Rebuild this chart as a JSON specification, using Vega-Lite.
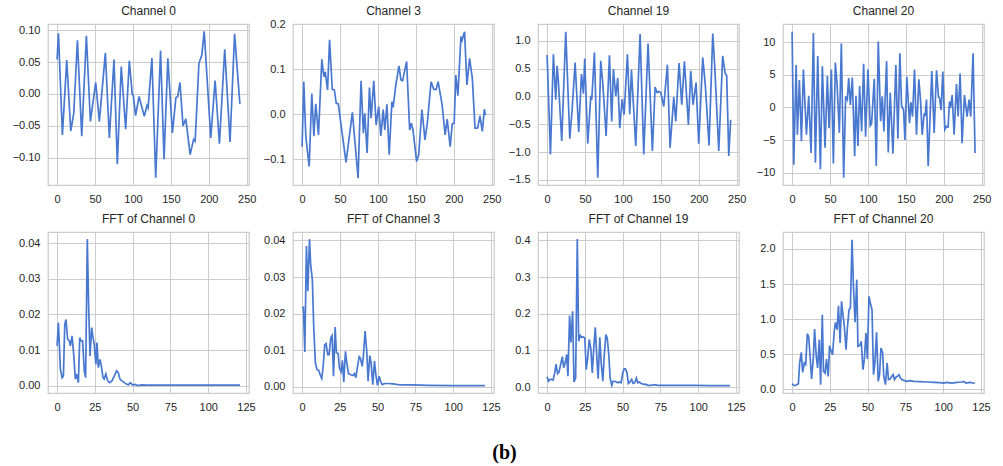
{
  "$schema": "https://vega.github.io/schema/vega-lite/v6.json",
  "background": "white",
  "padding": {"left": 11, "top": 4, "right": 5, "bottom": 5},
  "title": {"text": "(b)", "orient": "bottom", "anchor": "middle", "font": "Liberation Serif", "fontSize": 20, "fontWeight": "bold", "color": "#000000", "offset": 30, "dx": 3},
  "datasets": {
    "ch0": [
      {"x":0,"y":0.054},{"x":1.8,"y":0.095},{"x":7,"y":-0.064},{"x":12.7,"y":0.053},{"x":18,"y":-0.058},{"x":22,"y":-0.03},{"x":26.8,"y":0.084},{"x":32.5,"y":-0.066},{"x":38.6,"y":0.091},{"x":43.9,"y":-0.043},{"x":50.9,"y":0.018},{"x":55.7,"y":-0.043},{"x":63.6,"y":0.064},{"x":68.9,"y":-0.069},{"x":75,"y":0.054},{"x":79.4,"y":-0.11},{"x":84.6,"y":0.043},{"x":90.4,"y":-0.055},{"x":95.2,"y":0.052},{"x":99,"y":0},{"x":100.5,"y":-0.003},{"x":103.5,"y":-0.034},{"x":108,"y":-0.004},{"x":115,"y":-0.035},{"x":118.4,"y":-0.018},{"x":120,"y":-0.022},{"x":125,"y":0.056},{"x":130,"y":-0.131},{"x":136.4,"y":0.068},{"x":141,"y":-0.102},{"x":146,"y":0.056},{"x":152,"y":-0.061},{"x":156.6,"y":-0.006},{"x":159,"y":-0.004},{"x":162,"y":0.018},{"x":166,"y":-0.05},{"x":169.7,"y":-0.039},{"x":175.4,"y":-0.095},{"x":180,"y":-0.071},{"x":182,"y":-0.074},{"x":187,"y":0.048},{"x":190.8,"y":0.061},{"x":193.9,"y":0.098},{"x":202.6,"y":-0.069},{"x":208.3,"y":0.021},{"x":214,"y":-0.078},{"x":221,"y":0.07},{"x":228,"y":-0.075},{"x":234,"y":0.094},{"x":241,"y":-0.016}
    ],
    "ch3": [
      {"x":0,"y":-0.072},{"x":2.2,"y":0.072},{"x":4.9,"y":-0.049},{"x":9.3,"y":-0.116},{"x":12.8,"y":0.046},{"x":15.5,"y":-0.049},{"x":18,"y":0.023},{"x":21.6,"y":-0.046},{"x":26,"y":0.122},{"x":28.7,"y":0.083},{"x":30.5,"y":0.094},{"x":33.6,"y":0.054},{"x":36.2,"y":0.165},{"x":39.8,"y":0.055},{"x":42.5,"y":0.054},{"x":45,"y":0.024},{"x":47.7,"y":0.023},{"x":57.9,"y":-0.107},{"x":66.3,"y":0.004},{"x":73.8,"y":-0.142},{"x":77.7,"y":0.074},{"x":80.8,"y":-0.042},{"x":82.6,"y":0.002},{"x":85.7,"y":-0.086},{"x":88.8,"y":0.059},{"x":91,"y":-0.009},{"x":94.5,"y":0.074},{"x":97.6,"y":-0.024},{"x":101,"y":0.017},{"x":103.8,"y":-0.048},{"x":106.9,"y":0.01},{"x":109,"y":-0.035},{"x":111.8,"y":0.022},{"x":114.8,"y":-0.09},{"x":118.4,"y":0.028},{"x":120,"y":0.015},{"x":123.7,"y":0.066},{"x":127.7,"y":0.107},{"x":130.3,"y":0.076},{"x":132.5,"y":0.074},{"x":137.8,"y":0.117},{"x":141.8,"y":-0.035},{"x":144,"y":-0.02},{"x":146.2,"y":-0.035},{"x":151,"y":-0.105},{"x":153.7,"y":-0.09},{"x":158,"y":0.01},{"x":162,"y":-0.057},{"x":165,"y":-0.021},{"x":170,"y":0.072},{"x":173.6,"y":0.055},{"x":176.7,"y":0.055},{"x":179.3,"y":0.072},{"x":184.6,"y":0.021},{"x":188.6,"y":-0.046},{"x":191.3,"y":-0.011},{"x":195.2,"y":-0.072},{"x":198,"y":-0.021},{"x":200.5,"y":-0.02},{"x":202.7,"y":0.087},{"x":205.4,"y":0.041},{"x":209.4,"y":0.172},{"x":211,"y":0.164},{"x":212.9,"y":0.176},{"x":214.2,"y":0.183},{"x":217.3,"y":0.065},{"x":220.8,"y":0.124},{"x":224.4,"y":0.08},{"x":228,"y":-0.031},{"x":231.4,"y":-0.031},{"x":234.5,"y":-0.004},{"x":237.6,"y":-0.038},{"x":240.3,"y":0.011},{"x":241.6,"y":-0.002}
    ],
    "ch19": [
      {"x":0,"y":0.744},{"x":4.4,"y":-1.04},{"x":8.3,"y":0.756},{"x":11.4,"y":-0.06},{"x":13.2,"y":0.55},{"x":15,"y":0.24},{"x":19.3,"y":-0.8},{"x":24.6,"y":1.16},{"x":29.9,"y":-0.76},{"x":33,"y":-0.24},{"x":36.9,"y":0.61},{"x":41.7,"y":-0.64},{"x":45.3,"y":0.4},{"x":47.9,"y":0.05},{"x":49.6,"y":0.68},{"x":53.6,"y":-0.85},{"x":57.6,"y":0.01},{"x":58.9,"y":-0.06},{"x":62.4,"y":0.79},{"x":66.8,"y":-1.46},{"x":70.7,"y":0.64},{"x":73.4,"y":0.24},{"x":77.8,"y":-0.71},{"x":82.2,"y":0.74},{"x":85.2,"y":-0.45},{"x":87.4,"y":0.49},{"x":90.5,"y":0.01},{"x":93.1,"y":0.33},{"x":95.8,"y":-0.57},{"x":98.9,"y":-0.05},{"x":101.5,"y":-0.33},{"x":105.9,"y":0.756},{"x":109,"y":-0.32},{"x":111.2,"y":0.48},{"x":116.9,"y":-0.89},{"x":122.6,"y":1.12},{"x":127.4,"y":-1.04},{"x":133.1,"y":0.95},{"x":138.8,"y":-0.98},{"x":142.4,"y":0.17},{"x":145,"y":0.07},{"x":147.6,"y":0.09},{"x":149.8,"y":0.07},{"x":153.8,"y":-0.18},{"x":158.6,"y":0.57},{"x":162.1,"y":-0.92},{"x":167,"y":-0.01},{"x":169.6,"y":-0.45},{"x":174,"y":0.6},{"x":177.5,"y":-0.15},{"x":181,"y":0.63},{"x":186.3,"y":-0.51},{"x":189.4,"y":0.46},{"x":192.4,"y":-0.15},{"x":196.4,"y":0.25},{"x":199.9,"y":-0.85},{"x":205.2,"y":0.7},{"x":208.7,"y":0.18},{"x":213.5,"y":-0.88},{"x":218.4,"y":1.13},{"x":221,"y":0.54},{"x":226.3,"y":-0.98},{"x":231.5,"y":0.73},{"x":234.6,"y":0.42},{"x":236.8,"y":0.37},{"x":239.5,"y":-1.07},{"x":242,"y":-0.42}
    ],
    "ch20": [
      {"x":0,"y":11.6},{"x":2.2,"y":-8.8},{"x":5.3,"y":6.5},{"x":7,"y":-4.2},{"x":9.6,"y":4.2},{"x":12.3,"y":-5.2},{"x":14.9,"y":5.8},{"x":18.9,"y":-4.2},{"x":21.9,"y":1.8},{"x":25,"y":-7},{"x":28.1,"y":11.4},{"x":30.7,"y":-8.5},{"x":33.8,"y":7.9},{"x":37.3,"y":-9.5},{"x":39.9,"y":6.3},{"x":43.4,"y":-6.2},{"x":46.5,"y":4.8},{"x":48.7,"y":-3.2},{"x":51.8,"y":5.8},{"x":54.4,"y":-8.6},{"x":57,"y":6.9},{"x":59.2,"y":3.7},{"x":62.3,"y":-3.9},{"x":64.9,"y":9.8},{"x":68,"y":-10.8},{"x":70.6,"y":1.7},{"x":72.8,"y":1.2},{"x":74.6,"y":4.5},{"x":76.8,"y":0.4},{"x":79.4,"y":4.6},{"x":82.5,"y":-7.5},{"x":84.2,"y":1.8},{"x":86.8,"y":-5.9},{"x":89,"y":3.3},{"x":91.7,"y":-3.7},{"x":94.3,"y":6.7},{"x":96.9,"y":-4.5},{"x":100,"y":5.8},{"x":103,"y":-2.8},{"x":104.8,"y":-2.5},{"x":108.3,"y":4.4},{"x":111,"y":-9},{"x":113.6,"y":10.1},{"x":116.7,"y":-2.1},{"x":118.9,"y":1.7},{"x":121,"y":-3.7},{"x":124.6,"y":7.1},{"x":126.8,"y":-6.9},{"x":129.4,"y":2.3},{"x":132.9,"y":-7.1},{"x":136.8,"y":6.5},{"x":139.5,"y":-4.8},{"x":142.1,"y":8.3},{"x":144.3,"y":0.3},{"x":147,"y":-0.4},{"x":148.7,"y":-5},{"x":151.3,"y":4.7},{"x":154.8,"y":-2.4},{"x":156.6,"y":0.8},{"x":158.8,"y":-1.4},{"x":161.4,"y":5.8},{"x":164,"y":-4.2},{"x":167.1,"y":4.3},{"x":169.3,"y":1.2},{"x":171.5,"y":-4.2},{"x":174.1,"y":-0.9},{"x":175.4,"y":-1.3},{"x":177.2,"y":1.2},{"x":179.4,"y":-9},{"x":184.2,"y":5.6},{"x":187.3,"y":-3.9},{"x":190.4,"y":5.7},{"x":193,"y":1.6},{"x":194.3,"y":1.5},{"x":196.5,"y":-0.4},{"x":198.7,"y":5.5},{"x":201.3,"y":-3.4},{"x":203.5,"y":-2.9},{"x":205.7,"y":-3},{"x":207.5,"y":0.9},{"x":208.8,"y":-0.1},{"x":211,"y":1.9},{"x":213.6,"y":-4.2},{"x":216.7,"y":3.6},{"x":218.9,"y":-1.4},{"x":221.5,"y":5.2},{"x":224.1,"y":-5.5},{"x":227.2,"y":1.9},{"x":230.7,"y":-1.4},{"x":233.3,"y":1.2},{"x":235.5,"y":-1.4},{"x":238.6,"y":8.3},{"x":241.2,"y":-7}
    ],
    "f0": [
      {"x":0,"y":0.0112},{"x":0.9,"y":0.0177},{"x":2.2,"y":0.0047},{"x":3.3,"y":0.0023},{"x":4.2,"y":0.0028},{"x":5.1,"y":0.0172},{"x":5.9,"y":0.0186},{"x":7,"y":0.013},{"x":8.1,"y":0.0126},{"x":8.8,"y":0.0112},{"x":9.9,"y":0.014},{"x":11,"y":0.0088},{"x":12.1,"y":0.0019},{"x":13,"y":0.0033},{"x":14.1,"y":0.0009},{"x":15,"y":0.0135},{"x":15.8,"y":0.0126},{"x":16.9,"y":0.0126},{"x":18,"y":0.0042},{"x":18.9,"y":0.0023},{"x":20,"y":0.0411},{"x":20.9,"y":0.0223},{"x":21.8,"y":0.0084},{"x":22.9,"y":0.0163},{"x":23.8,"y":0.0135},{"x":24.6,"y":0.0116},{"x":25.7,"y":0.006},{"x":26.4,"y":0.0121},{"x":27.3,"y":0.0051},{"x":28.4,"y":0.0074},{"x":29.3,"y":0.0056},{"x":30.4,"y":0.0023},{"x":31.2,"y":0.0019},{"x":32.3,"y":0.0033},{"x":33.5,"y":0.0014},{"x":34.8,"y":0.0009},{"x":36.3,"y":0.0014},{"x":37.9,"y":0.0028},{"x":39.4,"y":0.0042},{"x":40.5,"y":0.0037},{"x":41.6,"y":0.0019},{"x":42.9,"y":0.0014},{"x":44.5,"y":0.0009},{"x":45.8,"y":0.0005},{"x":47.3,"y":0.0003},{"x":48.4,"y":0.0009},{"x":49.5,"y":0.0005},{"x":50.2,"y":0.0002},{"x":51.7,"y":0.0004},{"x":53.3,"y":0.0001},{"x":56,"y":0.0003},{"x":59.4,"y":0.0002},{"x":70,"y":0.0002},{"x":90,"y":0.0002},{"x":110,"y":0.0002},{"x":121,"y":0.0002}
    ],
    "f3": [
      {"x":0,"y":0.0215},{"x":0.9,"y":0.0217},{"x":1.8,"y":0.0095},{"x":2.9,"y":0.0385},{"x":3.8,"y":0.0261},{"x":4.9,"y":0.0404},{"x":5.7,"y":0.0334},{"x":6.8,"y":0.0293},{"x":7.7,"y":0.0165},{"x":8.8,"y":0.0065},{"x":9.9,"y":0.0047},{"x":11,"y":0.0045},{"x":11.9,"y":0.0034},{"x":13,"y":0.0023},{"x":13.9,"y":0.0052},{"x":15,"y":0.0115},{"x":15.9,"y":0.0118},{"x":17,"y":0.0088},{"x":17.9,"y":0.0088},{"x":19,"y":0.0134},{"x":19.9,"y":0.014},{"x":20.8,"y":0.0029},{"x":21.9,"y":0.0163},{"x":22.7,"y":0.0093},{"x":23.9,"y":0.0091},{"x":24.7,"y":0.0052},{"x":25.8,"y":0.0041},{"x":26.7,"y":0.0072},{"x":27.6,"y":0.0013},{"x":28.7,"y":0.0097},{"x":29.6,"y":0.0065},{"x":30.7,"y":0.0036},{"x":31.6,"y":0.0034},{"x":32.7,"y":0.0032},{"x":33.6,"y":0.0031},{"x":34.7,"y":0.0036},{"x":35.6,"y":0.0025},{"x":36.7,"y":0.0056},{"x":37.8,"y":0.0082},{"x":38.6,"y":0.0078},{"x":39.8,"y":0.0056},{"x":40.6,"y":0.0084},{"x":41.7,"y":0.0152},{"x":42.8,"y":0.0097},{"x":43.7,"y":0.0015},{"x":44.8,"y":0.0085},{"x":45.7,"y":0.0064},{"x":46.8,"y":0.0006},{"x":47.9,"y":0.007},{"x":48.8,"y":0.0034},{"x":49.9,"y":0.0004},{"x":51,"y":0.0029},{"x":51.9,"y":0.0015},{"x":53,"y":0.0006},{"x":54.8,"y":0.0009},{"x":57,"y":0.0009},{"x":60.3,"y":0.0008},{"x":63.6,"y":0.0006},{"x":66.9,"y":0.0005},{"x":72.4,"y":0.0005},{"x":83.5,"y":0.0004},{"x":99,"y":0.0003},{"x":121,"y":0.0003}
    ],
    "f19": [
      {"x":0,"y":0.028},{"x":0.9,"y":0.016},{"x":2,"y":0.021},{"x":2.9,"y":0.021},{"x":4,"y":0.019},{"x":5.1,"y":0.039},{"x":5.9,"y":0.063},{"x":7,"y":0.037},{"x":7.9,"y":0.041},{"x":9,"y":0.062},{"x":10.1,"y":0.083},{"x":11,"y":0.053},{"x":12.1,"y":0.068},{"x":13,"y":0.089},{"x":13.8,"y":0.03},{"x":14.9,"y":0.195},{"x":15.8,"y":0.122},{"x":16.9,"y":0.207},{"x":17.8,"y":0.014},{"x":18.9,"y":0.025},{"x":20,"y":0.404},{"x":20.9,"y":0.125},{"x":22,"y":0.141},{"x":22.8,"y":0.136},{"x":23.9,"y":0.137},{"x":25,"y":0.134},{"x":25.9,"y":0.048},{"x":27,"y":0.084},{"x":27.9,"y":0.13},{"x":29,"y":0.104},{"x":29.9,"y":0.039},{"x":31,"y":0.112},{"x":31.9,"y":0.163},{"x":33,"y":0.075},{"x":33.8,"y":0.023},{"x":34.9,"y":0.136},{"x":35.8,"y":0.066},{"x":36.9,"y":0.016},{"x":37.8,"y":0.084},{"x":38.9,"y":0.143},{"x":39.8,"y":0.134},{"x":40.9,"y":0.086},{"x":41.7,"y":0.025},{"x":42.8,"y":0.005},{"x":43.7,"y":0.016},{"x":44.8,"y":0.016},{"x":45.9,"y":0.014},{"x":46.8,"y":0.012},{"x":47.8,"y":0.014},{"x":49,"y":0.012},{"x":50.1,"y":0.039},{"x":51,"y":0.05},{"x":51.8,"y":0.05},{"x":52.9,"y":0.039},{"x":53.8,"y":0.01},{"x":54.9,"y":0.014},{"x":56,"y":0.021},{"x":56.9,"y":0.01},{"x":58,"y":0.012},{"x":59.1,"y":0.025},{"x":60,"y":0.012},{"x":61.1,"y":0.014},{"x":62.2,"y":0.01},{"x":63.3,"y":0.009},{"x":64.4,"y":0.007},{"x":65.5,"y":0.008},{"x":66.6,"y":0.005},{"x":68.8,"y":0.005},{"x":71,"y":0.007},{"x":73.2,"y":0.005},{"x":79.7,"y":0.005},{"x":97.3,"y":0.005},{"x":108.3,"y":0.004},{"x":121,"y":0.004}
    ],
    "f20": [
      {"x":0,"y":0.081},{"x":1.1,"y":0.057},{"x":2,"y":0.052},{"x":3.1,"y":0.067},{"x":4.2,"y":0.081},{"x":5,"y":0.375},{"x":6.1,"y":0.527},{"x":7,"y":0.242},{"x":8.1,"y":0.375},{"x":9,"y":0.352},{"x":10.1,"y":0.793},{"x":11,"y":0.746},{"x":12.1,"y":0.423},{"x":12.9,"y":0.147},{"x":14,"y":0.423},{"x":14.9,"y":0.86},{"x":16,"y":0.47},{"x":16.9,"y":0.304},{"x":18,"y":0.708},{"x":18.9,"y":0.067},{"x":20,"y":1.064},{"x":20.8,"y":0.257},{"x":21.9,"y":0.233},{"x":22.8,"y":0.432},{"x":23.9,"y":0.185},{"x":24.8,"y":0.622},{"x":25.9,"y":0.542},{"x":26.8,"y":0.494},{"x":27.9,"y":0.827},{"x":28.7,"y":0.955},{"x":29.8,"y":0.85},{"x":30.7,"y":1.19},{"x":31.8,"y":0.66},{"x":32.7,"y":1.254},{"x":33.8,"y":1.04},{"x":34.6,"y":0.898},{"x":35.7,"y":0.565},{"x":36.6,"y":0.874},{"x":37.7,"y":1.135},{"x":38.6,"y":1.159},{"x":39.7,"y":2.133},{"x":40.6,"y":1.468},{"x":41.7,"y":0.955},{"x":42.8,"y":1.563},{"x":43.6,"y":0.613},{"x":44.7,"y":0.622},{"x":45.8,"y":0.684},{"x":46.9,"y":0.28},{"x":47.8,"y":0.423},{"x":48.9,"y":0.803},{"x":49.8,"y":0.432},{"x":50.9,"y":1.325},{"x":51.8,"y":1.23},{"x":52.9,"y":1.135},{"x":53.9,"y":0.209},{"x":54.8,"y":0.375},{"x":55.9,"y":0.812},{"x":57,"y":0.114},{"x":57.9,"y":0.209},{"x":58.8,"y":0.589},{"x":59.9,"y":0.527},{"x":60.7,"y":0.185},{"x":61.8,"y":0.067},{"x":62.9,"y":0.375},{"x":63.8,"y":0.138},{"x":64.9,"y":0.147},{"x":66,"y":0.185},{"x":66.9,"y":0.209},{"x":67.8,"y":0.138},{"x":68.9,"y":0.176},{"x":69.7,"y":0.185},{"x":70.8,"y":0.209},{"x":71.7,"y":0.162},{"x":72.8,"y":0.138},{"x":73.9,"y":0.128},{"x":76.1,"y":0.114},{"x":78.3,"y":0.124},{"x":80.5,"y":0.114},{"x":84.9,"y":0.109},{"x":89.3,"y":0.105},{"x":93.6,"y":0.1},{"x":98,"y":0.095},{"x":100.2,"y":0.09},{"x":102.4,"y":0.1},{"x":105.7,"y":0.09},{"x":109,"y":0.1},{"x":112.3,"y":0.105},{"x":113.4,"y":0.114},{"x":115.1,"y":0.09},{"x":117.8,"y":0.1},{"x":120,"y":0.09},{"x":121,"y":0.086}
    ]
  },
  "columns": 4,
  "bounds": "flush",
  "spacing": {"row": 47, "column": 44},
  "concat": [
    {
      "title": "Channel 0", "width": 201, "height": 161, "data": {"name": "ch0"},
      "mark": {"type": "line", "color": "#4878d0", "strokeWidth": 1.7, "clip": true},
      "encoding": {
        "x": {"field": "x", "type": "quantitative", "scale": {"domain": [-12, 253], "nice": false, "zero": false}, "axis": {"values": [0, 50, 100, 150, 200, 250], "title": null}},
        "y": {"field": "y", "type": "quantitative", "scale": {"domain": [-0.1425, 0.1095], "nice": false, "zero": false}, "axis": {"values": [-0.1, -0.05, 0, 0.05, 0.1], "format": ".2f", "title": null}}
      }
    },
    {
      "title": {"text": "Channel 3", "offset": 0}, "width": 201, "height": 161, "data": {"name": "ch3"},
      "mark": {"type": "line", "color": "#4878d0", "strokeWidth": 1.7, "clip": true},
      "encoding": {
        "x": {"field": "x", "type": "quantitative", "scale": {"domain": [-12, 253], "nice": false, "zero": false}, "axis": {"values": [0, 50, 100, 150, 200, 250], "title": null}},
        "y": {"field": "y", "type": "quantitative", "scale": {"domain": [-0.157, 0.2], "nice": false, "zero": false}, "axis": {"values": [-0.1, 0, 0.1, 0.2], "format": ".1f", "title": null}}
      }
    },
    {
      "title": "Channel 19", "width": 201, "height": 161, "data": {"name": "ch19"},
      "mark": {"type": "line", "color": "#4878d0", "strokeWidth": 1.7, "clip": true},
      "encoding": {
        "x": {"field": "x", "type": "quantitative", "scale": {"domain": [-12, 253], "nice": false, "zero": false}, "axis": {"values": [0, 50, 100, 150, 200, 250], "title": null}},
        "y": {"field": "y", "type": "quantitative", "scale": {"domain": [-1.59, 1.3], "nice": false, "zero": false}, "axis": {"values": [-1.5, -1, -0.5, 0, 0.5, 1], "format": ".1f", "title": null}}
      }
    },
    {
      "title": "Channel 20", "width": 201, "height": 161, "data": {"name": "ch20"},
      "mark": {"type": "line", "color": "#4878d0", "strokeWidth": 1.7, "clip": true},
      "encoding": {
        "x": {"field": "x", "type": "quantitative", "scale": {"domain": [-12, 253], "nice": false, "zero": false}, "axis": {"values": [0, 50, 100, 150, 200, 250], "title": null}},
        "y": {"field": "y", "type": "quantitative", "scale": {"domain": [-11.9, 12.8], "nice": false, "zero": false}, "axis": {"values": [-10, -5, 0, 5, 10], "format": "d", "title": null}}
      }
    },
    {
      "title": "FFT of Channel 0", "width": 201, "height": 161, "data": {"name": "f0"},
      "mark": {"type": "line", "color": "#4878d0", "strokeWidth": 1.7, "clip": true},
      "encoding": {
        "x": {"field": "x", "type": "quantitative", "scale": {"domain": [-6, 127], "nice": false, "zero": false}, "axis": {"values": [0, 25, 50, 75, 100, 125], "title": null}},
        "y": {"field": "y", "type": "quantitative", "scale": {"domain": [-0.002, 0.0431], "nice": false, "zero": false}, "axis": {"values": [0, 0.01, 0.02, 0.03, 0.04], "format": ".2f", "title": null}}
      }
    },
    {
      "title": "FFT of Channel 3", "width": 201, "height": 161, "data": {"name": "f3"},
      "mark": {"type": "line", "color": "#4878d0", "strokeWidth": 1.7, "clip": true},
      "encoding": {
        "x": {"field": "x", "type": "quantitative", "scale": {"domain": [-6, 127], "nice": false, "zero": false}, "axis": {"values": [0, 25, 50, 75, 100, 125], "title": null}},
        "y": {"field": "y", "type": "quantitative", "scale": {"domain": [-0.0017, 0.0423], "nice": false, "zero": false}, "axis": {"values": [0, 0.01, 0.02, 0.03, 0.04], "format": ".2f", "title": null}}
      }
    },
    {
      "title": "FFT of Channel 19", "width": 201, "height": 161, "data": {"name": "f19"},
      "mark": {"type": "line", "color": "#4878d0", "strokeWidth": 1.7, "clip": true},
      "encoding": {
        "x": {"field": "x", "type": "quantitative", "scale": {"domain": [-6, 127], "nice": false, "zero": false}, "axis": {"values": [0, 25, 50, 75, 100, 125], "title": null}},
        "y": {"field": "y", "type": "quantitative", "scale": {"domain": [-0.016, 0.423], "nice": false, "zero": false}, "axis": {"values": [0, 0.1, 0.2, 0.3, 0.4], "format": ".1f", "title": null}}
      }
    },
    {
      "title": "FFT of Channel 20", "width": 201, "height": 161, "data": {"name": "f20"},
      "mark": {"type": "line", "color": "#4878d0", "strokeWidth": 1.7, "clip": true},
      "encoding": {
        "x": {"field": "x", "type": "quantitative", "scale": {"domain": [-6, 127], "nice": false, "zero": false}, "axis": {"values": [0, 25, 50, 75, 100, 125], "title": null}},
        "y": {"field": "y", "type": "quantitative", "scale": {"domain": [-0.052, 2.242], "nice": false, "zero": false}, "axis": {"values": [0, 0.5, 1, 1.5, 2], "format": ".1f", "title": null}}
      }
    }
  ],
  "config": {
    "font": "Liberation Sans",
    "view": {"stroke": "#cccccc", "strokeWidth": 1.25},
    "axis": {"domain": false, "ticks": false, "grid": true, "gridColor": "#cccccc", "gridWidth": 1, "labelFontSize": 11, "labelColor": "#262626", "labelPadding": 8, "labelFont": "Liberation Sans", "labelFlush": false, "labelOverlap": false},
    "title": {"fontSize": 12, "fontWeight": "normal", "color": "#262626", "offset": 6, "font": "Liberation Sans"}
  }
}
